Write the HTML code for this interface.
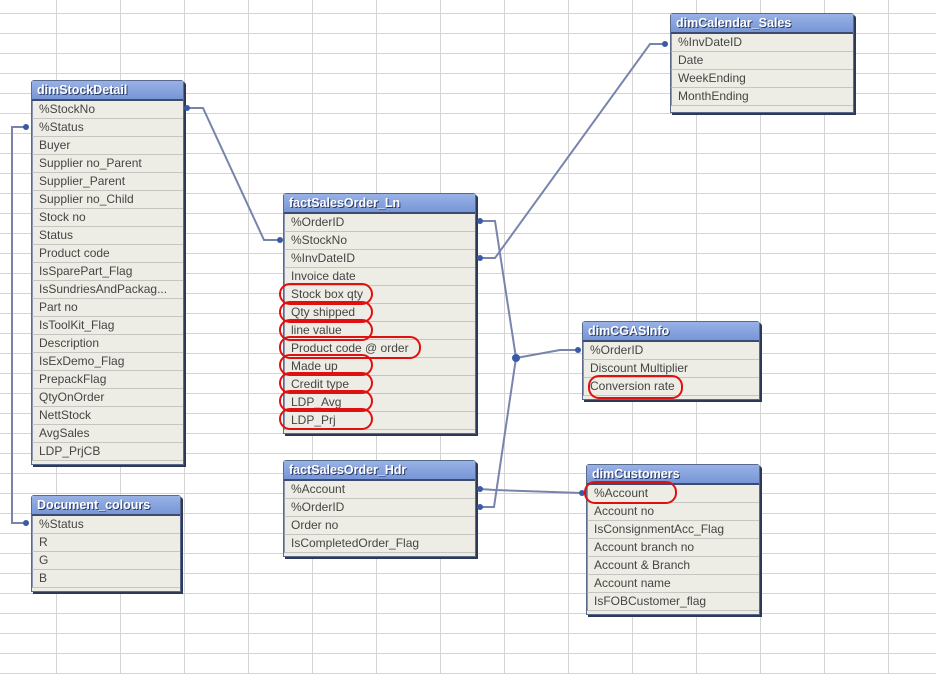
<!DOCTYPE html>
<html><head><meta charset="utf-8"><style>
body{margin:0;width:936px;height:674px;overflow:hidden;background:#fff;font-family:"Liberation Sans",sans-serif}
.t{position:absolute;background:#eeede5;border:1px solid #5a6a8c;box-shadow:2px 2px 0 #2e3a55;border-radius:3px 3px 0 0}
.h{height:18px;background:linear-gradient(#98b2e6,#7896d6);color:#fff;font-weight:bold;font-size:12.5px;line-height:18px;padding-left:5px;text-shadow:1px 1px 0 #2a3a66;border-bottom:2px solid #3d4b6e}
.r{height:17px;border-bottom:1px solid #c6c6c0;border-left:1px solid #8a96b0;font-size:12px;line-height:17px;padding-left:6px;color:#444;white-space:nowrap;overflow:hidden}
</style></head><body>
<svg width="936" height="674" style="position:absolute;left:0;top:0">
<g stroke="#d4d4d4" stroke-width="1">
<line x1="56.5" y1="0" x2="56.5" y2="674"/><line x1="120.5" y1="0" x2="120.5" y2="674"/><line x1="184.5" y1="0" x2="184.5" y2="674"/><line x1="248.5" y1="0" x2="248.5" y2="674"/><line x1="312.5" y1="0" x2="312.5" y2="674"/><line x1="376.5" y1="0" x2="376.5" y2="674"/><line x1="440.5" y1="0" x2="440.5" y2="674"/><line x1="504.5" y1="0" x2="504.5" y2="674"/><line x1="568.5" y1="0" x2="568.5" y2="674"/><line x1="632.5" y1="0" x2="632.5" y2="674"/><line x1="696.5" y1="0" x2="696.5" y2="674"/><line x1="760.5" y1="0" x2="760.5" y2="674"/><line x1="824.5" y1="0" x2="824.5" y2="674"/><line x1="888.5" y1="0" x2="888.5" y2="674"/>
</g>
<g stroke="#d4d4d4" stroke-width="1" id="hl"></g>
</svg>
<script>
var g=document.getElementById('hl'),s='';for(var y=13;y<674;y+=20)s+='<line x1="0" y1="'+(y+.5)+'" x2="936" y2="'+(y+.5)+'"/>';g.innerHTML=s;
</script>

<div class="t" style="left:31px;top:80px;width:151px"><div class="h">dimStockDetail</div>
<div class="r">%StockNo</div><div class="r">%Status</div><div class="r">Buyer</div><div class="r">Supplier no_Parent</div><div class="r">Supplier_Parent</div><div class="r">Supplier no_Child</div><div class="r">Stock no</div><div class="r">Status</div><div class="r">Product code</div><div class="r">IsSparePart_Flag</div><div class="r">IsSundriesAndPackag...</div><div class="r">Part no</div><div class="r">IsToolKit_Flag</div><div class="r">Description</div><div class="r">IsExDemo_Flag</div><div class="r">PrepackFlag</div><div class="r">QtyOnOrder</div><div class="r">NettStock</div><div class="r">AvgSales</div><div class="r">LDP_PrjCB</div><div style="height:3px"></div></div>

<div class="t" style="left:31px;top:495px;width:148px"><div class="h">Document_colours</div>
<div class="r">%Status</div><div class="r">R</div><div class="r">G</div><div class="r">B</div><div style="height:3px"></div></div>

<div class="t" style="left:283px;top:193px;width:191px"><div class="h">factSalesOrder_Ln</div>
<div class="r">%OrderID</div><div class="r">%StockNo</div><div class="r">%InvDateID</div><div class="r">Invoice date</div><div class="r">Stock box qty</div><div class="r">Qty shipped</div><div class="r">line value</div><div class="r">Product code @ order</div><div class="r">Made up</div><div class="r">Credit type</div><div class="r">LDP_Avg</div><div class="r">LDP_Prj</div><div style="height:3px"></div></div>

<div class="t" style="left:283px;top:460px;width:191px"><div class="h">factSalesOrder_Hdr</div>
<div class="r">%Account</div><div class="r">%OrderID</div><div class="r">Order no</div><div class="r">IsCompletedOrder_Flag</div><div style="height:3px"></div></div>

<div class="t" style="left:670px;top:13px;width:182px"><div class="h">dimCalendar_Sales</div>
<div class="r">%InvDateID</div><div class="r">Date</div><div class="r">WeekEnding</div><div class="r">MonthEnding</div><div style="height:6px"></div></div>

<div class="t" style="left:582px;top:321px;width:176px"><div class="h">dimCGASInfo</div>
<div class="r">%OrderID</div><div class="r">Discount Multiplier</div><div class="r">Conversion rate</div><div style="height:3px"></div></div>

<div class="t" style="left:586px;top:464px;width:172px"><div class="h">dimCustomers</div>
<div class="r">%Account</div><div class="r">Account no</div><div class="r">IsConsignmentAcc_Flag</div><div class="r">Account branch no</div><div class="r">Account &amp; Branch</div><div class="r">Account name</div><div class="r">IsFOBCustomer_flag</div><div style="height:3px"></div></div>

<svg width="936" height="674" style="position:absolute;left:0;top:0">
<g fill="none" stroke="#7884ac" stroke-width="2">
<polyline points="187,108 203,108 264,240 280,240"/>
<polyline points="26,127 12,127 12,523 26,523"/>
<polyline points="480,221 495,221 516,358"/>
<polyline points="480,507 494,507 516,358"/>
<polyline points="516,358 560,350 578,350"/>
<polyline points="480,258 495,258 650,44 665,44"/>
<polyline points="480,489 495,490 582,493"/>
</g>
<g fill="#3a5aa8">
<circle cx="187" cy="108" r="3"/><circle cx="280" cy="240" r="3"/><circle cx="26" cy="127" r="3"/><circle cx="26" cy="523" r="3"/>
<circle cx="480" cy="221" r="3"/><circle cx="480" cy="258" r="3"/><circle cx="480" cy="507" r="3"/><circle cx="480" cy="489" r="3"/>
<circle cx="516" cy="358" r="4"/><circle cx="578" cy="350" r="3"/><circle cx="665" cy="44" r="3"/><circle cx="582" cy="493" r="3"/>
</g>
<g fill="none" stroke="#e01010" stroke-width="2">
<rect x="280" y="284" width="92" height="20" rx="10"/>
<rect x="280" y="302" width="92" height="20" rx="10"/>
<rect x="280" y="320" width="92" height="20" rx="10"/>
<rect x="280" y="337" width="140" height="21" rx="10"/>
<rect x="280" y="355" width="92" height="20" rx="10"/>
<rect x="280" y="373" width="92" height="20" rx="10"/>
<rect x="280" y="391" width="92" height="20" rx="10"/>
<rect x="280" y="409" width="92" height="20" rx="10"/>
<rect x="589" y="376" width="93" height="22" rx="10"/>
<rect x="585" y="482" width="91" height="21" rx="10"/>
</g>
</svg>
</body></html>
